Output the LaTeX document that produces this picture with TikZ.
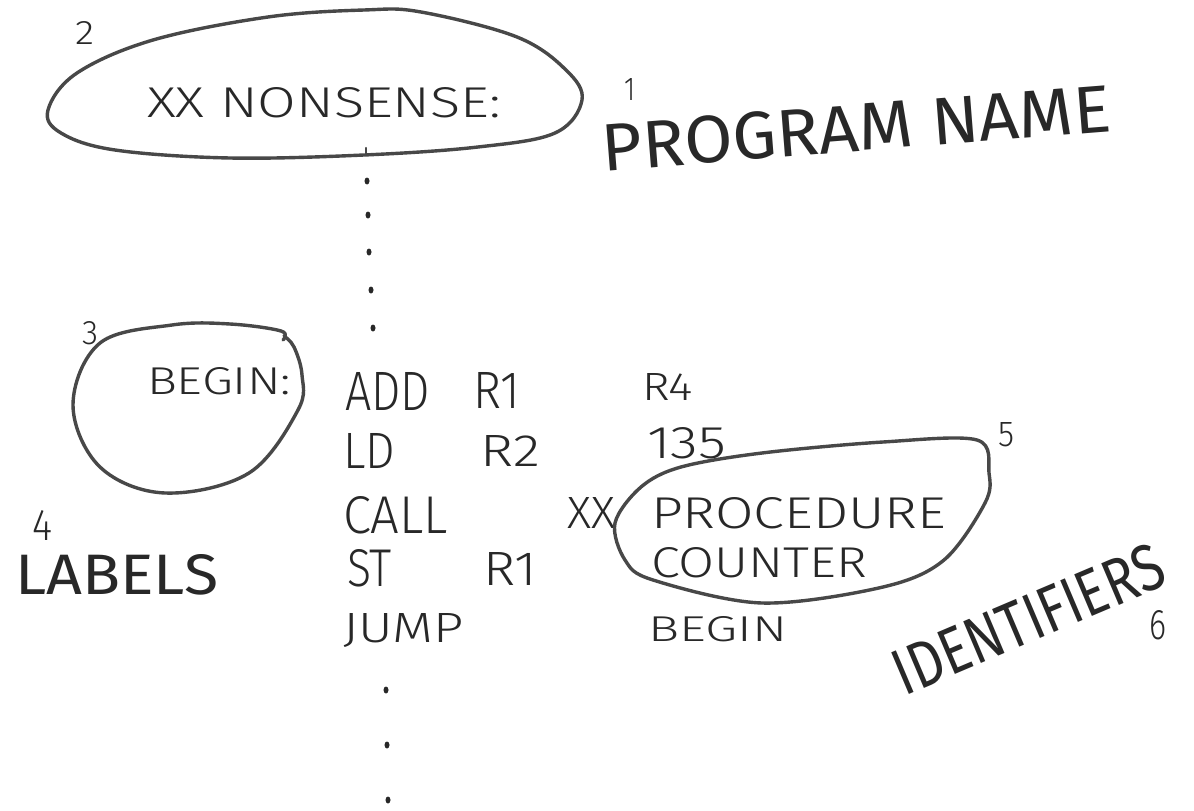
\documentclass[tikz,border=0pt]{standalone}
\usepackage{fontspec}
\usepackage{graphicx}
\usetikzlibrary{shapes.geometric}
\newfontfamily\handlight{Fira Sans Light}
\newfontfamily\handreg{Fira Sans}
\definecolor{pencil}{RGB}{40,40,40}
\definecolor{loopgray}{RGB}{72,72,72}
% \fitbox{width}{height}{text}: letters stretched to a given box
\newcommand{\fitbox}[3]{\resizebox{#1pt}{#2pt}{#3}}
\tikzset{
  txt/.style={anchor=south west, inner sep=0pt, outer sep=0pt, text=pencil, font=\handlight},
  lbl/.style={txt, font=\handreg},
  loopline/.style={draw=loopgray, line width=3.4pt, line cap=round, line join=round},
  dotmark/.style={ellipse, fill=pencil, inner sep=0pt, minimum width=5pt, minimum height=7pt},
}
\begin{document}
\begin{tikzpicture}[x=1pt,y=-1pt]
\useasboundingbox[fill=white] (0,0) rectangle (1194,811);

% --- program name loop
\draw[loopline] plot[smooth cycle, tension=0.6] coordinates {
  (48,110) (77,73) (153,40) (268,17) (364,10) (421,12) (517,37)
  (566,70) (582,100) (555,133) (478,147) (364,155) (230,158) (115,150) (61,133)};
\coordinate (tickbot) at (366,155);
\coordinate (ticktop) at (366,148);
\draw[loopline, line width=2.4pt] (tickbot) -- (ticktop);
\node[txt] (n2) at (75,44) {\fitbox{19}{23}{2}};
\node[txt] (nonsense) at (147,118) {\fitbox{354}{30}{XX NONSENSE:}};

\node[txt] (n1) at (624,100) {\fitbox{11}{22}{1}};
\node[lbl, rotate=4.5] (progname) at (604,172) {\fitbox{510}{47}{PROGRAM NAME}};

% --- dots above the code
\node[dotmark] (u1) at (367,181) {};
\node[dotmark] (u2) at (368,215) {};
\node[dotmark] (u3) at (369,252) {};
\node[dotmark] (u4) at (371,290) {};
\node[dotmark] (u5) at (373,328) {};

% --- label loop
\draw[loopline] plot[smooth, tension=0.6] coordinates {
  (283,340) (281,331) (230,324) (172,325) (100,343) (73,405) (100,467)
  (165,493) (249,473) (298,410) (302,375) (294,347) (284,336)};
\node[txt] (n3) at (82,345) {\fitbox{16}{23}{3}};
\node[txt] (beginlbl) at (147,395) {\fitbox{144}{27}{BEGIN:}};

% --- code lines
\node[txt] (add) at (345,410) {\fitbox{85}{38}{ADD}};
\node[txt] (r1a) at (473,408) {\fitbox{47}{36}{R1}};
\node[txt] (r4)  at (642,400) {\fitbox{51}{27}{R4}};

\node[txt] (ld)  at (343,468) {\fitbox{52}{35}{LD}};
\node[txt] (r2)  at (480,466) {\fitbox{60}{31}{R2}};
\node[txt] (num) at (647,459) {\fitbox{79}{31}{135}};

\node[txt] (call) at (343,534) {\fitbox{105}{37}{CALL}};
\node[txt] (xx)   at (567,528) {\fitbox{48}{31}{XX}};
\node[txt] (proc) at (651,529) {\fitbox{295}{31}{PROCEDURE}};

\node[txt] (st)  at (347,587) {\fitbox{45}{37}{ST}};
\node[txt] (r1b) at (483,585) {\fitbox{54}{33}{R1}};
\node[txt] (ctr) at (651,578) {\fitbox{216}{30}{COUNTER}};

\node[txt] (jump) at (343,648) {\fitbox{121}{29}{JUMP}};
\node[txt] (beginref) at (648,642) {\fitbox{139}{25}{BEGIN}};

% --- dots below the code
\node[dotmark] (l1) at (386,690) {};
\node[dotmark] (l2) at (387,745) {};
\node[dotmark] (l3) at (388,800) {};

% --- labels
\node[txt] (n4) at (32,540) {\fitbox{20}{30}{4}};
\node[lbl] (labels) at (15,595) {\fitbox{203}{40}{LABELS}};

% --- identifier loop
\draw[loopline] plot[smooth cycle, tension=0.55] coordinates {
  (977,440) (989,473) (985,503) (944,560) (883,587) (762,603) (653,580)
  (625,560) (615,523) (641,487) (681,467) (762,453) (883,442)};
\node[txt] (n5) at (998,447) {\fitbox{16}{24}{5}};
\node[lbl, rotate=23] (idents) at (905,697) {\fitbox{288}{46}{IDENTIFIERS}};
\node[txt] (n6) at (1149,640) {\fitbox{17}{29}{6}};
\end{tikzpicture}
\end{document}
